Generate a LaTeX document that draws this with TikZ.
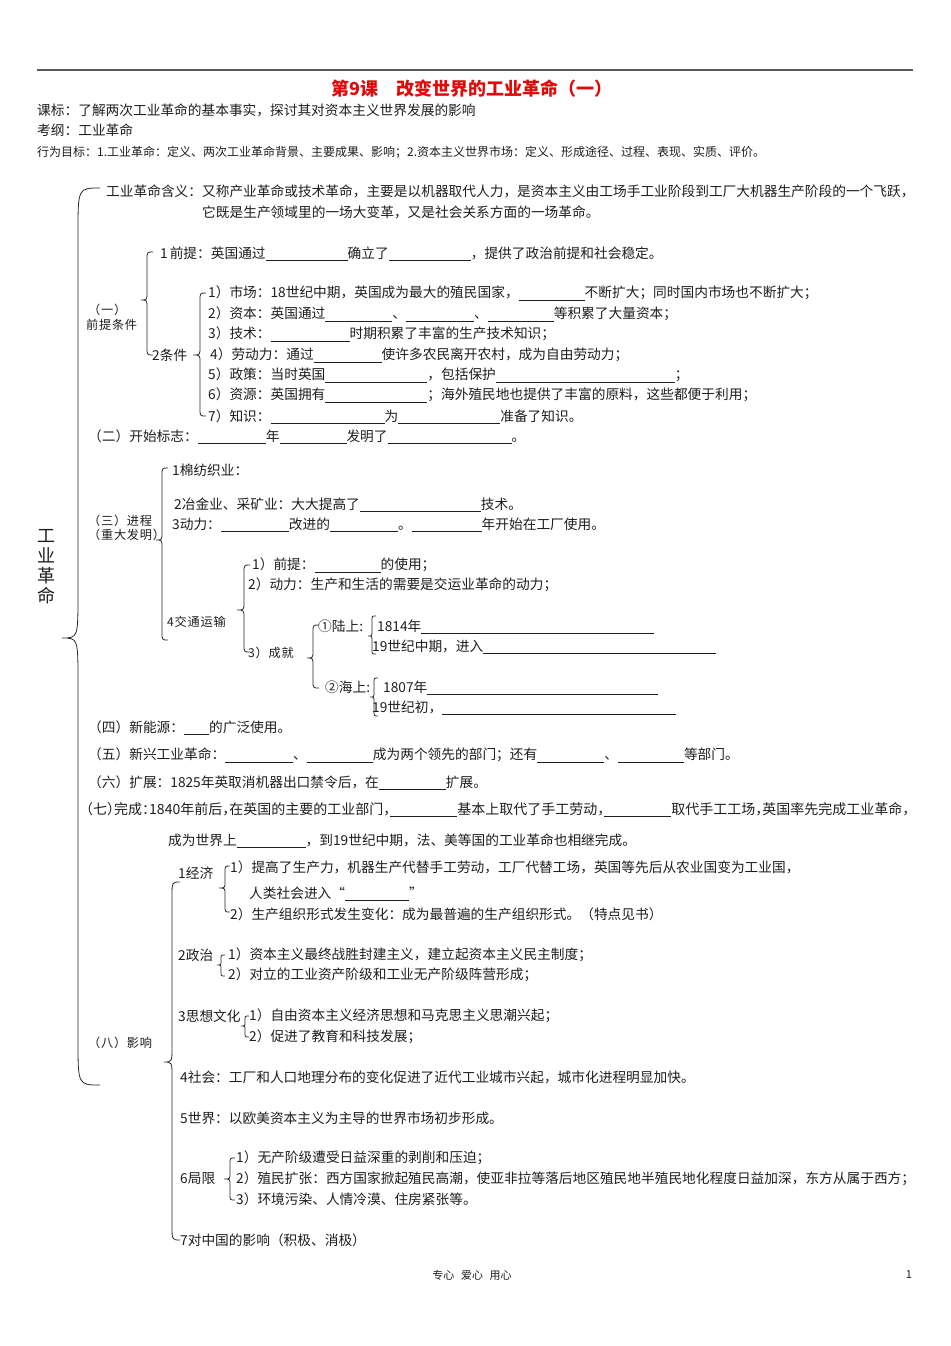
\documentclass[tikz,border=0pt]{standalone}
\usepackage{fontspec}
\setmainfont{Noto Sans CJK SC}
\newfontfamily\cjkhalt{Noto Sans CJK SC}[RawFeature=+halt]
\newfontfamily\labfont{Noto Sans CJK SC}[LetterSpace=6]
\definecolor{txt}{RGB}{30,30,30}
\definecolor{ttl}{RGB}{225,10,10}
\definecolor{ln}{RGB}{40,40,40}
\newcommand\bl[1]{\smash{\rule[-2.5pt]{#1pt}{0.6pt}}}
\newcommand\brc[7]{\draw[brc] ({#1+#5},#2) .. controls (#1,#2) .. (#1,{#2+#7}) -- (#1,{#3-#7}) .. controls (#1,#3) .. ({#1-#6},#3) .. controls (#1,#3) .. (#1,{#3+#7}) -- (#1,{#4-#7}) .. controls (#1,#4) .. ({#1+#5},#4);}
\tikzset{
  tx/.style={anchor=west,inner sep=0pt,text=txt,font=\fontsize{13.7}{16}\selectfont},
  sm/.style={anchor=west,inner sep=0pt,text=txt,font=\fontsize{12}{14}\selectfont},
  lab/.style={anchor=west,inner sep=0pt,text=txt,font=\labfont\fontsize{12.2}{14}\selectfont},
  brc/.style={draw=ln,line width=0.8pt},
}
\begin{document}
\begin{tikzpicture}[x=1pt,y=-1pt]
\useasboundingbox[fill=white] (0,0) rectangle (950,1346);
% header
\draw[line width=1.6pt,draw={rgb,255:red,90;green,90;blue,90}] (37,70) -- (913,70);
\node[inner sep=0pt,text=ttl,font=\fontsize{18}{21}\selectfont\bfseries] (title) at (472,89) {第9课\hspace{1em}改变世界的工业革命（一）};
\node[tx] (hd1) at (37,110) {课标：了解两次工业革命的基本事实，探讨其对资本主义世界发展的影响};
\node[tx] (hd2) at (37,130) {考纲：工业革命};
\node[sm] (hd3) at (37,152) {行为目标：1.工业革命：定义、两次工业革命背景、主要成果、影响；2.资本主义世界市场：定义、形成途径、过程、表现、实质、评价。};
% big brace and vertical title
\brc{78}{188}{638}{1085}{22}{16}{45}
\node[inner sep=0pt,text=txt,align=center,font=\fontsize{18}{20}\selectfont] (vt) at (46,567) {工\\业\\革\\命};
% definition
\node[tx] (n1) at (106,191) {工业革命含义：又称产业革命或技术革命，主要是以机器取代人力，是资本主义由工场手工业阶段到工厂大机器生产阶段的一个飞跃，};
\node[tx] (n2) at (202,212) {它既是生产领域里的一场大变革，又是社会关系方面的一场革命。};
% (一)
\node[lab] (p1a) at (88,310) {（一）};
\node[lab] (p1b) at (86,325) {前提条件};
\brc{147}{252}{300}{355}{6}{6}{8}
\node[tx] (p11) at (160,253) {1\hspace{2pt}前提：英国通过\bl{82}确立了\bl{82}，提供了政治前提和社会稳定。};
\node[tx] (p12) at (152,355) {2条件};
\brc{200}{293}{355}{416}{6}{7}{8}
\node[tx] (c1) at (208,293) {1）市场：18世纪中期，英国成为最大的殖民国家，\bl{66}不断扩大；同时国内市场也不断扩大；};
\node[tx] (c2) at (208,314) {2）资本：英国通过\bl{67}、\bl{68}、\bl{66}等积累了大量资本；};
\node[tx] (c3) at (208,334) {3）技术：\bl{79}时期积累了丰富的生产技术知识；};
\node[tx] (c4) at (210,355) {4）劳动力：通过\bl{68}使许多农民离开农村，成为自由劳动力；};
\node[tx] (c5) at (208,375) {5）政策：当时英国\bl{102}，包括保护\bl{179}；};
\node[tx] (c6) at (208,395) {6）资源：英国拥有\bl{102}；海外殖民地也提供了丰富的原料，这些都便于利用；};
\node[tx] (c7) at (208,416) {7）知识：\bl{114}为\bl{102}准备了知识。};
% (二)
\node[tx] (s2) at (88,436) {（二）开始标志：\bl{68}年\bl{67}发明了\bl{124}。};
% (三)
\node[lab] (s3a) at (88,521) {（三）进程};
\node[lab] (s3b) at (88,535) {（重大发明）};
\brc{162}{468}{540}{640}{6}{6}{8}
\node[tx] (g1) at (172,470) {1棉纺织业：};
\node[tx] (g2) at (174,504) {2冶金业、采矿业：大大提高了\bl{121}技术。};
\node[tx] (g3) at (172,524) {3动力：\bl{68}改进的\bl{68}。\bl{70}年开始在工厂使用。};
\node[lab] (g4) at (167,622) {4交通运输};
\brc{244}{565}{610}{652}{6}{7}{8}
\node[tx] (t1) at (252,565) {1）前提：\bl{66}的使用；};
\node[tx] (t2) at (248,585) {2）动力：生产和生活的需要是交运业革命的动力；};
\node[lab] (t3) at (248,653) {3）成就};
\brc{313}{625}{658}{688}{6}{6}{8}
\node[tx] (l0) at (318,626) {①陆上:};
\brc{372}{616}{636}{654}{4}{4}{5}
\node[tx] (l1) at (377,626) {1814年\bl{233}};
\node[tx] (l2) at (372,646) {19世纪中期，进入\bl{233}};
\node[tx] (h0) at (325,687) {②海上:};
\brc{374}{678}{697}{716}{4}{4}{5}
\node[tx] (h1) at (383,687) {1807年\bl{231}};
\node[tx] (h2) at (372,707) {19世纪初，\bl{234}};
% (四)-(七)
\node[tx] (s4) at (88,727) {（四）新能源：\bl{25}的广泛使用。};
\node[tx] (s5) at (88,755) {（五）新兴工业革命：\bl{68}、\bl{66}成为两个领先的部门；还有\bl{67}、\bl{66}等部门。};
\node[tx] (s6) at (88,782) {（六）扩展：1825年英取消机器出口禁令后，在\bl{67}扩展。};
\node[tx,font=\cjkhalt\fontsize{14}{16}\selectfont] (s7) at (86,809) {（七）完成：1840年前后，在英国的主要的工业部门，\bl{67}基本上取代了手工劳动，\bl{67}取代手工工场，英国率先完成工业革命，};
\node[tx] (s7b) at (168,840) {成为世界上\bl{69}，到19世纪中期，法、美等国的工业革命也相继完成。};
% (八)
\node[lab] (s8) at (88,1043) {（八）影响};
\brc{172}{882}{1062}{1240}{8}{8}{15}
\node[tx] (e0) at (178,873) {1经济};
\brc{225}{866}{888}{912}{5}{6}{7}
\node[tx] (e1) at (230,867) {1）提高了生产力，机器生产代替手工劳动，工厂代替工场，英国等先后从农业国变为工业国，};
\node[tx] (e2) at (249,893) {人类社会进入“\bl{64}”};
\node[tx] (e3) at (230,914) {2）生产组织形式发生变化：成为最普遍的生产组织形式。（特点见书）};
\node[tx] (z0) at (178,955) {2政治};
\brc{221}{955}{965}{976}{4}{4}{4}
\node[tx] (z1) at (228,955) {1）资本主义最终战胜封建主义，建立起资本主义民主制度；};
\node[tx] (z2) at (228,975) {2）对立的工业资产阶级和工业无产阶级阵营形成；};
\node[tx] (w0) at (178,1016) {3思想文化};
\brc{245}{1016}{1026}{1037}{4}{4}{4}
\node[tx] (w1) at (249,1016) {1）自由资本主义经济思想和马克思主义思潮兴起；};
\node[tx] (w2) at (249,1037) {2）促进了教育和科技发展；};
\node[tx] (q4) at (180,1077) {4社会：工厂和人口地理分布的变化促进了近代工业城市兴起，城市化进程明显加快。};
\node[tx] (q5) at (180,1118) {5世界：以欧美资本主义为主导的世界市场初步形成。};
\node[tx] (j0) at (180,1179) {6局限};
\brc{230}{1158}{1179}{1200}{5}{6}{6}
\node[tx] (j1) at (236,1158) {1）无产阶级遭受日益深重的剥削和压迫；};
\node[tx] (j2) at (236,1179) {2）殖民扩张：西方国家掀起殖民高潮，使亚非拉等落后地区殖民地半殖民地化程度日益加深，东方从属于西方；};
\node[tx] (j3) at (236,1199) {3）环境污染、人情冷漠、住房紧张等。};
\node[tx] (q7) at (180,1240) {7对中国的影响（积极、消极）};
% footer
\node[inner sep=0pt,text=txt,font=\fontsize{11}{13}\selectfont] (f1) at (472,1275) {专心\hspace{0.6em}爱心\hspace{0.6em}用心};
\node[inner sep=0pt,text=txt,font=\fontsize{11}{13}\selectfont] (f2) at (909,1275) {1};
\end{tikzpicture}
\end{document}
